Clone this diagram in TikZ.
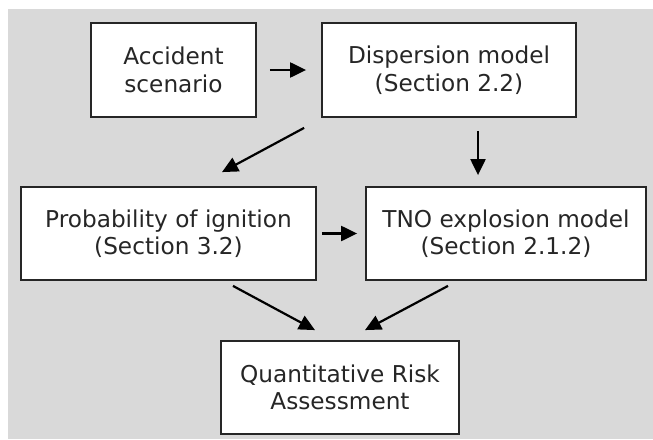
\documentclass[tikz,border=0pt]{standalone}
\usepackage{fontspec}
\setmainfont{DejaVu Sans}
\usetikzlibrary{arrows.meta}

\begin{document}
\begin{tikzpicture}[x=1pt,y=1pt,
  stage/.style={draw=black!85,line width=1.8pt,fill=white,inner sep=0pt,align=center,
    font=\fontsize{23.2}{27.5}\selectfont,text=black!85},
  flow/.style={line width=2.2pt,-{Triangle[length=16pt,width=15pt]}}]

\useasboundingbox (0,0) rectangle (653,-439);
\fill[gray!30] (8,-9) rectangle (653,-439);

% boxes
\node[stage,minimum width=165pt,minimum height=94pt] (acc) at (173.5,-70) {Accident\\scenario};
\node[stage,minimum width=254pt,minimum height=94pt] (disp) at (449,-70) {Dispersion model\\(Section 2.2)};
\node[stage,minimum width=295pt,minimum height=93pt] (ign) at (168.5,-233.5) {Probability of ignition\\(Section 3.2)};
\node[stage,minimum width=280pt,minimum height=93pt] (tno) at (506,-233.5) {TNO explosion model\\(Section 2.1.2)};
\node[stage,minimum width=238pt,minimum height=93pt] (qra) at (340,-387.5) {Quantitative Risk\\Assessment};

% arrows
\draw[flow,shorten <=13pt,shorten >=15pt] (acc.east) -- (disp.west);
\draw[flow] ([shift={(-17,-10)}]disp.south west) -- ([shift={(53.5,14)}]ign.north);
\draw[flow] ([shift={(29,-13)}]disp.south) -- ([shift={(-28,11)}]tno.north);
\draw[flow,shorten <=5pt,shorten >=8pt] (ign.east) -- (tno.west);
\draw[flow] ([shift={(64.5,-5)}]ign.south) -- ([shift={(-25,10)}]qra.north);
\draw[flow] ([shift={(-58,-5)}]tno.south) -- ([shift={(25,10)}]qra.north);
\end{tikzpicture}
\end{document}
